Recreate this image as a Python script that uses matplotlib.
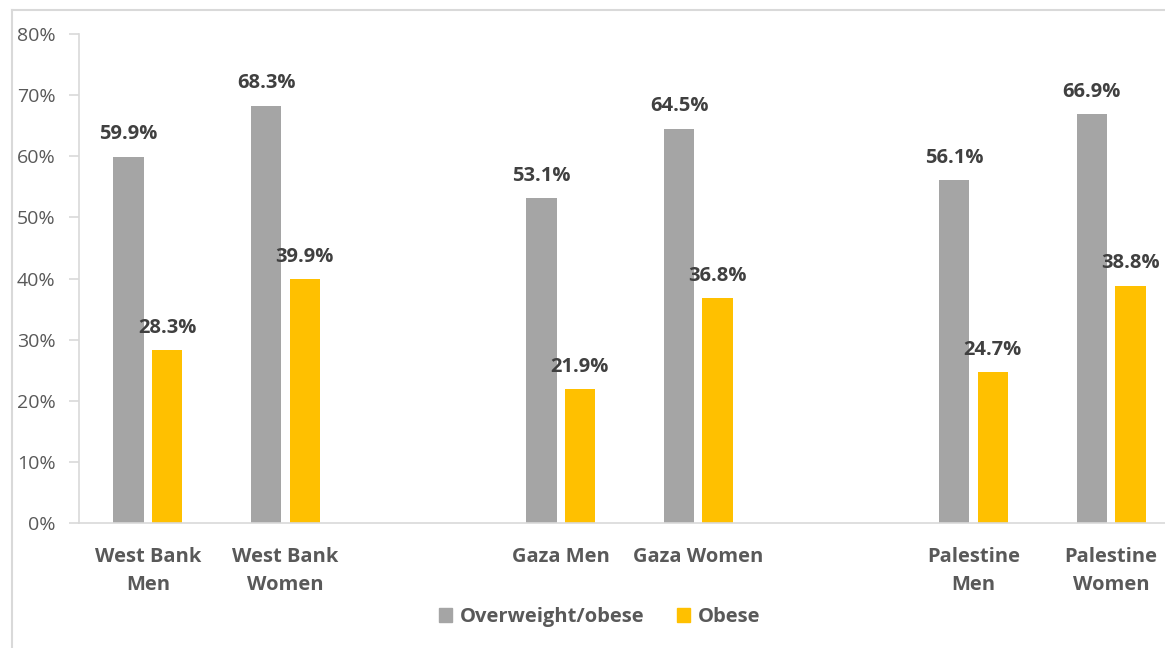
import numpy as np
import matplotlib.pyplot as plt
from matplotlib.lines import Line2D

categories = ['West Bank\nMen', 'West Bank\nWomen', '', 'Gaza Men', 'Gaza Women', '',
              'Palestine\nMen', 'Palestine\nWomen']
overweight = [59.9, 68.3, None, 53.1, 64.5, None, 56.1, 66.9]
obese = [28.3, 39.9, None, 21.9, 36.8, None, 24.7, 38.8]
series_names = ['Overweight/obese', 'Obese']
y_ticks = [0, 10, 20, 30, 40, 50, 60, 70, 80]

plt.rcParams['font.family'] = ['Open Sans', 'DejaVu Sans']

fig = plt.figure(figsize=(11.65, 6.48), dpi=100)
ax = fig.add_axes([79 / 1165, 1 - 523 / 648, 1101 / 1165, (523 - 34) / 648])

x = np.arange(len(categories))
width = 0.22
grey = '#A5A5A5'
gold = '#FFC000'

for vals, off, col in [(overweight, -0.14, grey), (obese, 0.14, gold)]:
    for xi, v in zip(x, vals):
        if v is None:
            continue
        ax.bar(xi + off, v, width, color=col)
        ax.annotate(f'{v:.1f}%', (xi + off, v), xytext=(0, 9), textcoords='offset points',
                    ha='center', va='bottom', fontsize=14.5, fontweight='bold', color='#404040')

ax.set_xlim(-0.5, len(categories) - 0.5)
ax.set_ylim(0, 80)
ax.set_yticks(y_ticks)
ax.set_yticklabels([f'{t}%' for t in y_ticks], fontsize=14, color='#595959')
ax.set_xticks(x)
ax.set_xticklabels(categories, fontsize=14.5, fontweight='bold', color='#595959',
                   linespacing=1.55)
ax.tick_params(axis='x', length=0, pad=17)
ax.tick_params(axis='y', length=7, color='#D9D9D9', width=1.2, pad=10)

for s in ['top', 'right']:
    ax.spines[s].set_visible(False)
for s in ['left', 'bottom']:
    ax.spines[s].set_color('#D9D9D9')
    ax.spines[s].set_linewidth(1.2)

handles = [plt.Rectangle((0, 0), 1, 1, color=grey), plt.Rectangle((0, 0), 1, 1, color=gold)]
leg = fig.legend(handles, series_names, loc='center', bbox_to_anchor=(600 / 1165, 1 - 617 / 648),
                 ncol=2, frameon=False, handlelength=0.65, handleheight=0.65,
                 handletextpad=0.4, columnspacing=1.6,
                 prop={'size': 14.5, 'weight': 'bold'})
for t in leg.get_texts():
    t.set_color('#595959')

# chart area border
fig.add_artist(Line2D([12 / 1165, 1], [1 - 10 / 648, 1 - 10 / 648], color='#D9D9D9', lw=1.5))
fig.add_artist(Line2D([12 / 1165, 12 / 1165], [0, 1 - 10 / 648], color='#D9D9D9', lw=1.5))

fig.savefig('out.png', dpi=100)
